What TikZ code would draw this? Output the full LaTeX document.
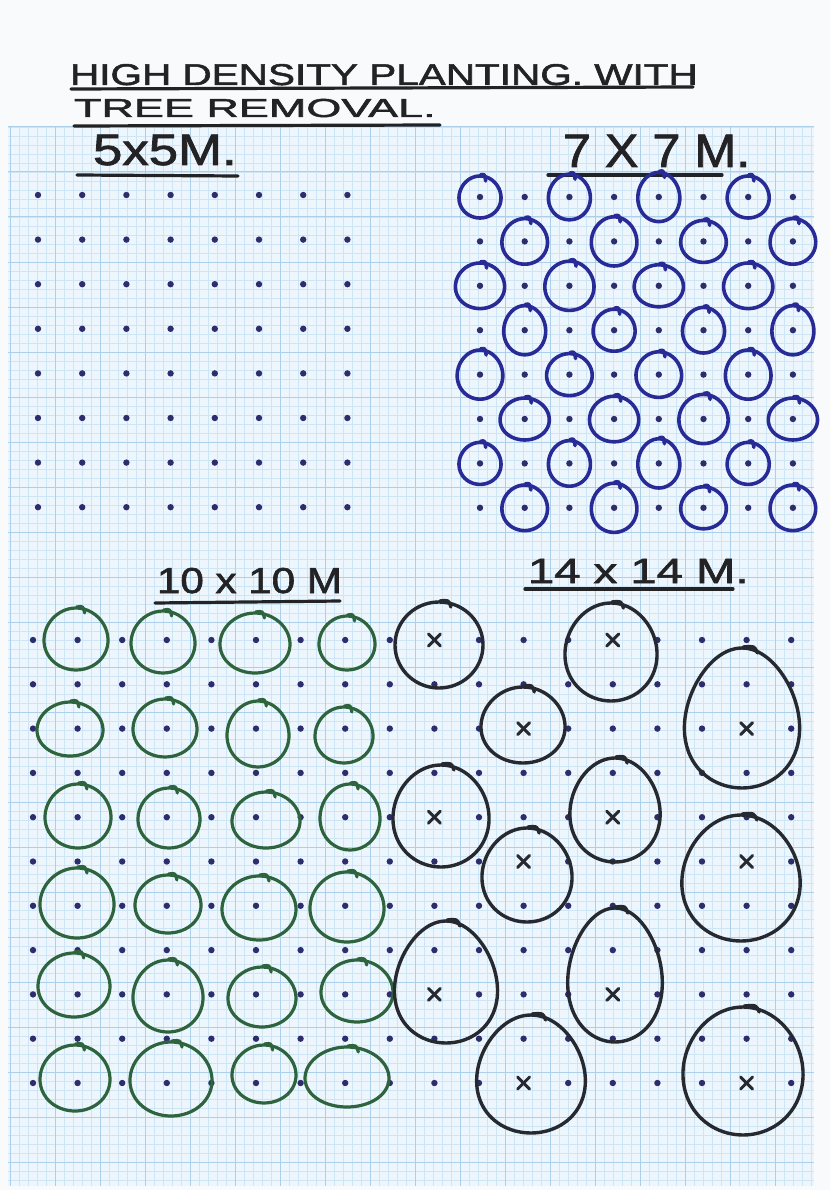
\documentclass[tikz,border=0pt]{standalone}
\usepackage{fontspec}
\setmainfont{Liberation Sans}
\newfontfamily\handfont[FakeBold=1.6]{Liberation Sans}
\definecolor{pagec}{RGB}{248,250,252}
\definecolor{paperc}{RGB}{237,246,252}
\definecolor{minorc}{RGB}{205,229,245}
\definecolor{majorc}{RGB}{172,208,233}
\definecolor{dotc}{RGB}{45,45,110}
\definecolor{blueink}{RGB}{40,42,150}
\definecolor{greenink}{RGB}{45,100,62}
\definecolor{blackink}{RGB}{38,42,48}
\definecolor{textink}{RGB}{35,35,38}
\newcommand\hcirc[6]{%
  \draw[#1] plot[smooth cycle, domain=0:352.5, samples=48, variable=\t]
    ({#2+#4*cos(\t)*(1+#6*sin(\t))},{#3+#5*sin(\t)});
  \draw[#1] ({#2+0.02*#4},{#3-#5-1}) .. controls ({#2+0.22*#4},{#3-#5-2}) .. ({#2+0.27*#4},{#3-#5+5});
}
\begin{document}
\begin{tikzpicture}[x=1pt,y=-1pt,
  lbl/.style={inner sep=0pt, outer sep=0pt, text=textink, anchor=base west, font=\handfont},
  uline/.style={textink, line width=3.2pt, line cap=round},
  blueC/.style={blueink, line width=3.6pt, line cap=round, line join=round},
  greenC/.style={greenink, line width=3.2pt, line cap=round, line join=round},
  blackC/.style={blackink, line width=3.4pt, line cap=round, line join=round},
  xmark/.style={blackink, line width=3pt, line cap=round},
  minorl/.style={minorc, line width=0.7pt},
  majorl/.style={majorc, line width=1pt}]
\useasboundingbox (0,0) rectangle (830,1190);
\fill[pagec] (0,0) rectangle (830,1190);
% graph paper
\fill[paperc] (8,127) rectangle (814,1186);
\begin{scope}
\clip (8,127) rectangle (814,1186);
\foreach \i in {0,...,89} \draw[minorl] ({10+9*\i},127) -- ({10+9*\i},1186);
\foreach \j in {0,...,117} \draw[minorl] (8,{127+9*\j}) -- (814,{127+9*\j});
\foreach \i in {0,...,17} \draw[majorl] ({10+45*\i},127) -- ({10+45*\i},1186);
\foreach \j in {0,...,23} \draw[majorl] (8,{127+45*\j}) -- (814,{127+45*\j});
\end{scope}
% title
\node[lbl] (title1) at (70,85) {\scalebox{1.35}[1]{\fontsize{30}{30}\selectfont HIGH DENSITY PLANTING. WITH}};
\node[lbl] (title2) at (74,117) {\scalebox{1.73}[1]{\fontsize{26}{26}\selectfont TREE REMOVAL.}};
\draw[uline] (71,89) -- (693,87);
\draw[uline] (74,126) -- (440,125);
% labels
\node[lbl] (lab5) at (93,165) {\scalebox{1.2}[1]{\fontsize{44}{44}\selectfont 5x5M.}};
\draw[uline] (77,175) -- (238,176);
\node[lbl] (lab7) at (563,167) {\scalebox{1.07}[1]{\fontsize{47}{47}\selectfont 7 X 7 M.}};
\draw[uline] (548,175) -- (722,175);
\node[lbl] (lab10) at (157,593) {\scalebox{1.17}[1]{\fontsize{36}{36}\selectfont 10 x 10 M}};
\draw[uline] (155,603) -- (340,601);
\node[lbl] (lab14) at (528,583) {\scalebox{1.35}[1]{\fontsize{35}{35}\selectfont 14 x 14 M.}};
\draw[uline] (525,589) -- (733,589);
% 5x5 grid
\foreach \i in {0,...,7}{\foreach \j in {0,...,7}{
  \fill[dotc] ({38+44.2*\i},{195+44.6*\j}) circle (3.2);
}}
% 7x7 grid
\foreach \i in {0,...,7}{\foreach \j in {0,...,7}{
  \fill[dotc] ({480+44.7*\i},{197+44.4*\j}) circle (3.2);
  \pgfmathtruncatemacro\s{\i+\j}
  \ifodd\s\else
    \pgfmathsetmacro\rx{21+1.8*mod(3*\i+7*\j,3)}
    \pgfmathsetmacro\ry{21+1.8*mod(5*\i+2*\j,3)}
    \hcirc{blueC}{480+44.7*\i}{197+44.4*\j}{\rx}{\ry}{0.04}
  \fi
}}
% 10x10 and 14x14 dot grid
\foreach \i in {0,...,17}{\foreach \j in {0,...,10}{
  \fill[dotc] ({33+44.6*\i},{640+44.3*\j}) circle (3.2);
}}
% green circles (10x10)
\foreach \cx/\cy/\rx/\ry in {76/639/32/31, 163/642/32/31, 255/643/35/30, 347/643/28/27,
  70/729/33/27, 165/728/32/29, 258/734/31/33, 344/735/29/28,
  78/816/33/32, 169/818/31/30, 266/820/34/28, 350/817/30/33,
  77/903/37/35, 168/904/33/29, 259/908/37/32, 347/907/37/35,
  74/985/36/32, 168/996/35/36, 262/997/34/30, 357/991/36/31,
  75/1078/35/33, 171/1079/41/37, 264/1074/32/29, 347/1077/42/30}{
  \hcirc{greenC}{\cx}{\cy}{\rx}{\ry}{0.04}
}
% black circles (14x14)
\foreach \cx/\cy/\rx/\ry/\k in {439/645/44/43/0, 611/652/46/49/0.05, 523/725/42/38/0.05,
  742/718/57/70/0.15, 441/816/48/51/0.05, 615/810/45/52/0.08, 527/875/45/47/0.05,
  741/878/59/63/0.08, 446/982/51/61/0.15, 615/975/47/67/0.12, 531/1074/54/59/0.12,
  743/1071/60/64/0.05}{
  \hcirc{blackC}{\cx}{\cy}{\rx}{\ry}{\k}
}
% x marks
\foreach \i/\j in {9/0, 13/0, 11/2, 16/2, 9/4, 13/4, 11/5, 16/5, 9/8, 13/8, 11/10, 16/10}{
  \fill[paperc] ({33+44.6*\i},{640+44.3*\j}) circle (3.6);
  \draw[xmark] ({33+44.6*\i-6},{640+44.3*\j-6}) -- ({33+44.6*\i+6},{640+44.3*\j+6});
  \draw[xmark] ({33+44.6*\i-6},{640+44.3*\j+6}) -- ({33+44.6*\i+6},{640+44.3*\j-6});
}
\end{tikzpicture}
\end{document}
